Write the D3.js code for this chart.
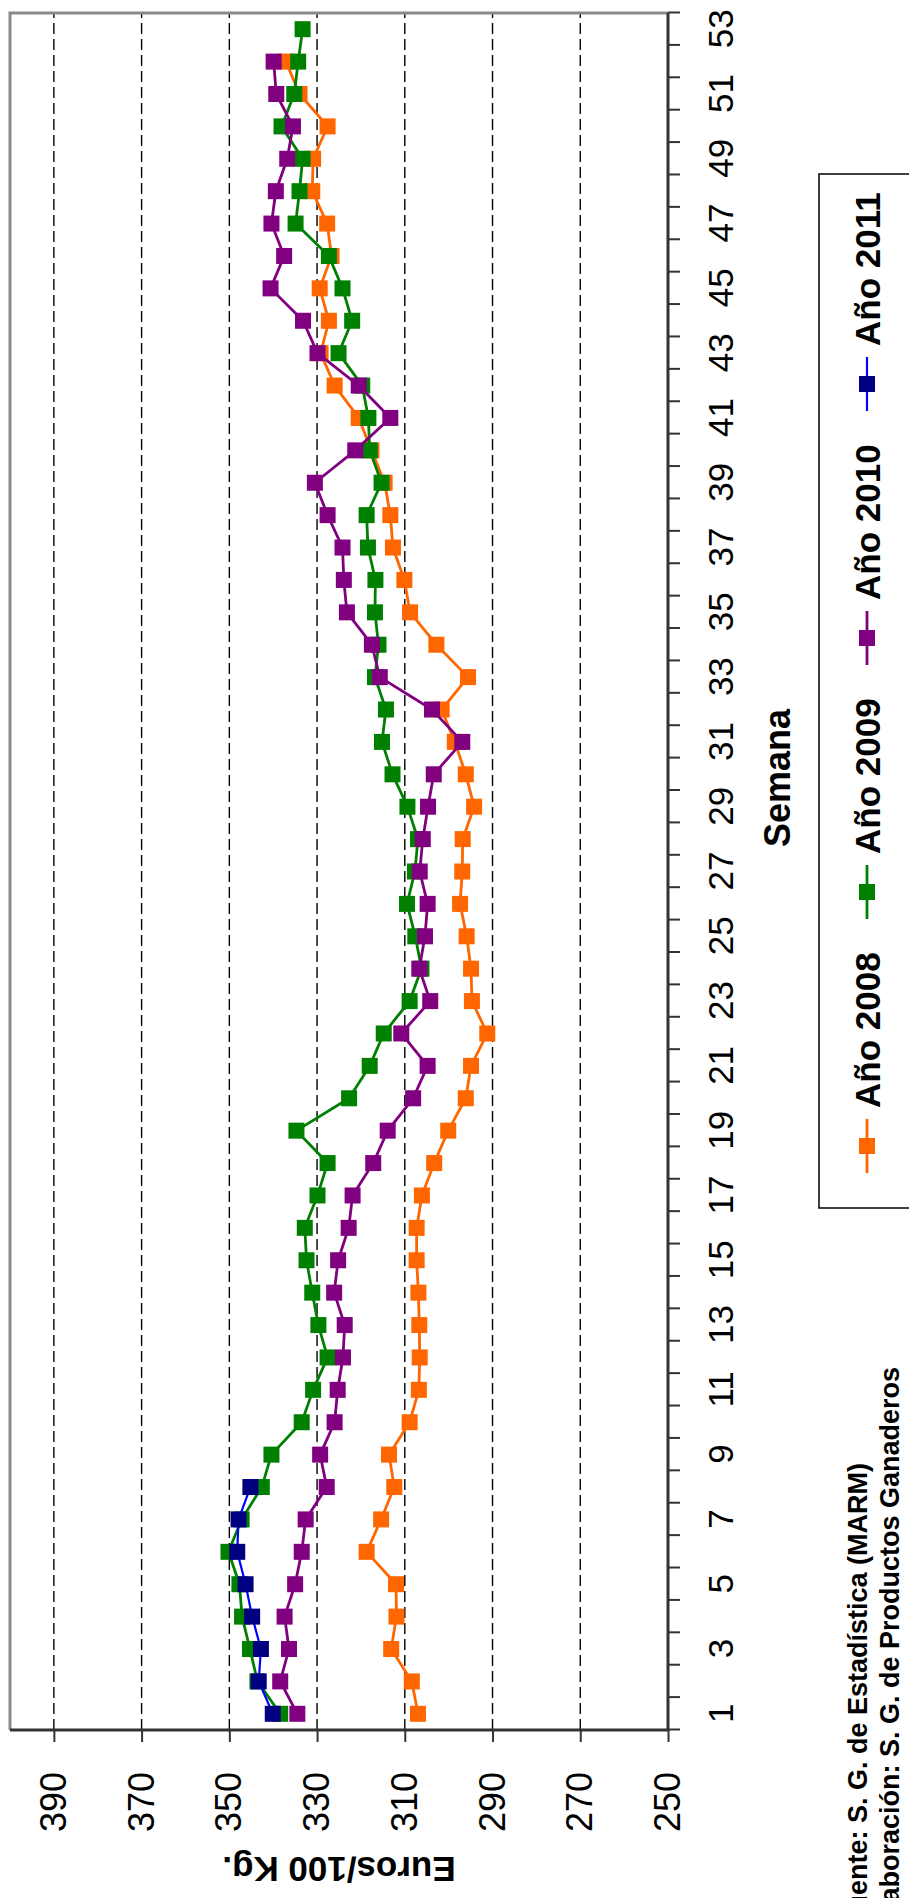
<!DOCTYPE html>
<html>
<head>
<meta charset="utf-8">
<script src="https://cdn.jsdelivr.net/npm/d3@7"></script>
<style>
  body { margin: 0; background: #fff; }
  svg { display: block; }
  text { font-family: "Liberation Sans", Arial, Helvetica, sans-serif; }
</style>
</head>
<body>
<svg id="chart" width="909" height="1898"></svg>
<script>
// ---- data ----
const weeks = d3.range(1, 54);
const weekLabels = d3.range(1, 54, 2);
const valueTicks = [250, 270, 290, 310, 330, 350, 370, 390];
const seriesNames = ["Año 2008", "Año 2009", "Año 2010", "Año 2011"];
const v2008 = [307.0,308.4,313.1,311.9,312.0,318.7,315.4,312.4,313.6,308.9,
  306.8,306.6,306.7,306.9,307.3,307.3,306.1,303.3,300.1,296.1,
  294.9,291.2,294.7,294.9,295.9,297.4,296.9,296.8,294.2,296.1,
  298.6,301.6,295.6,302.8,308.8,310.1,312.7,313.3,314.6,317.6,
  320.5,326.0,329.2,327.3,329.4,326.7,327.7,331.1,330.9,327.6,
  334.0,337.1];
const v2009 = [338.4,343.6,345.3,347.1,347.7,350.2,347.2,342.6,340.4,333.5,
  330.9,327.6,329.7,331.1,332.4,332.8,329.9,327.6,334.7,322.7,
  318.0,314.8,308.9,306.2,307.6,309.5,307.7,307.0,309.4,312.8,
  315.2,314.3,316.8,316.0,316.8,316.7,318.4,318.7,315.3,318.0,
  318.3,319.7,325.1,322.0,324.2,327.3,334.9,334.0,333.3,338.1,
  335.2,334.3,333.3];
const v2010 = [334.5,338.4,336.4,337.4,335.0,333.5,332.6,327.8,329.3,326.0,
  325.3,324.1,323.7,326.1,325.2,322.8,321.9,317.2,313.9,308.1,
  304.8,310.8,304.2,306.7,305.4,304.8,306.6,305.9,304.7,303.4,
  296.9,303.8,315.7,317.5,323.2,323.9,324.2,327.6,330.5,321.3,
  313.3,320.5,329.9,333.2,340.6,337.5,340.4,339.4,336.8,335.5,
  339.3,339.9];
const v2011 = [340.1,343.3,342.8,344.8,346.3,348.2,347.9,345.2];

const seriesValues = [v2008, v2009, v2010, v2011];
const markerColors = ["#FF6600", "#008000", "#800080", "#000080"];
const lineColors   = ["#FF6600", "#008000", "#800080", "#0000FF"];
const lineWidths   = [2.8, 2.8, 2.8, 2.2];

// ---- layout (drawn unrotated, then rotated -90deg) ----
const svg = d3.select("#chart");
svg.append("rect").attr("width", 909).attr("height", 1898).attr("fill", "#fff");
const g = svg.append("g").attr("transform", "translate(0,1898) rotate(-90)");

const L = 168, R = 1885, T = 10, B = 668;
const x = d3.scaleLinear().domain([0.5, 53.5]).range([L, R]);
const y = d3.scaleLinear().domain([250, 400]).range([B, T]);
const MS = 16; // marker size

// gridlines
g.append("g").selectAll("line")
  .data(valueTicks.filter(v => v > 250))
  .join("line")
  .attr("x1", L).attr("x2", R)
  .attr("y1", d => y(d)).attr("y2", d => y(d))
  .attr("stroke", "#000").attr("stroke-width", 1.4)
  .attr("stroke-dasharray", "11,5");

// plot area border (top / right in unrotated frame)
g.append("path")
  .attr("d", `M${L},${T}H${R}V${B}`)
  .attr("fill", "none").attr("stroke", "#8a8a8a").attr("stroke-width", 3);

// value axis
const yAxis = d3.axisLeft(y).tickValues(valueTicks).tickSize(12).tickSizeOuter(0)
  .tickPadding(30).tickFormat(d3.format("d"));
const ya = g.append("g").attr("transform", `translate(${L},0)`).call(yAxis);
ya.select(".domain").remove();
ya.selectAll(".tick line").attr("stroke", "#333").attr("stroke-width", 2);
ya.selectAll(".tick text").attr("font-size", 36).attr("fill", "#000")
  .style("font-family", '"Liberation Sans", Arial, sans-serif');

// week axis ticks at category boundaries
const xTicks = d3.axisBottom(x).tickValues(d3.range(0.5, 54, 1)).tickSize(12)
  .tickSizeOuter(0).tickFormat("");
const xt = g.append("g").attr("transform", `translate(0,${B})`).call(xTicks);
xt.select(".domain").remove();
xt.selectAll(".tick line").attr("stroke", "#333").attr("stroke-width", 2);

const xLab = d3.axisBottom(x).tickValues(weekLabels).tickSize(0).tickPadding(40)
  .tickFormat(d3.format("d"));
const xl = g.append("g").attr("transform", `translate(0,${B})`).call(xLab);
xl.select(".domain").remove();
xl.selectAll(".tick text").attr("font-size", 35).attr("fill", "#000")
  .style("font-family", '"Liberation Sans", Arial, sans-serif');

// axis lines
g.append("path")
  .attr("d", `M${L},${T}V${B}H${R}`)
  .attr("fill", "none").attr("stroke", "#333").attr("stroke-width", 3);

// series
const line = d3.line().x((d, i) => x(weeks[i])).y(d => y(d));
seriesValues.forEach((vals, s) => {
  g.append("path").datum(vals)
    .attr("d", line)
    .attr("fill", "none")
    .attr("stroke", lineColors[s])
    .attr("stroke-width", lineWidths[s])
    .attr("stroke-linejoin", "round");
  g.append("g").selectAll("rect").data(vals).join("rect")
    .attr("x", (d, i) => x(weeks[i]) - MS / 2)
    .attr("y", d => y(d) - MS / 2)
    .attr("width", MS).attr("height", MS)
    .attr("fill", markerColors[s]);
});

// axis titles
g.append("text")
  .attr("transform", `translate(41,${(T + B) / 2}) rotate(-90)`)
  .attr("text-anchor", "middle")
  .attr("font-size", 35).attr("font-weight", "bold")
  .text("Euros/100 Kg.");

g.append("text")
  .attr("x", 1120).attr("y", 790)
  .attr("text-anchor", "middle")
  .attr("font-size", 36).attr("font-weight", "bold")
  .text("Semana");

// legend
const lg = g.append("g");
lg.append("rect")
  .attr("x", 690).attr("y", 819).attr("width", 1034).attr("height", 140)
  .attr("fill", "#fff").attr("stroke", "#000").attr("stroke-width", 1.5);
seriesNames.forEach((name, i) => {
  const cx = 752 + 254 * i;
  lg.append("line")
    .attr("x1", cx - 27).attr("x2", cx + 27)
    .attr("y1", 867).attr("y2", 867)
    .attr("stroke", lineColors[i]).attr("stroke-width", lineWidths[i]);
  lg.append("rect")
    .attr("x", cx - MS / 2).attr("y", 867 - MS / 2)
    .attr("width", MS).attr("height", MS)
    .attr("fill", markerColors[i]);
  lg.append("text")
    .attr("x", cx + 38).attr("y", 880)
    .attr("font-size", 35).attr("font-weight", "bold")
    .text(name);
});

// footer
g.append("text").attr("x", -30).attr("y", 867)
  .attr("font-size", 27).attr("font-weight", "bold")
  .text("Fuente: S. G. de Estadística (MARM)");
g.append("text").attr("x", -30).attr("y", 899)
  .attr("font-size", 27).attr("font-weight", "bold")
  .text("Elaboración: S. G. de Productos Ganaderos");
</script>
</body>
</html>
